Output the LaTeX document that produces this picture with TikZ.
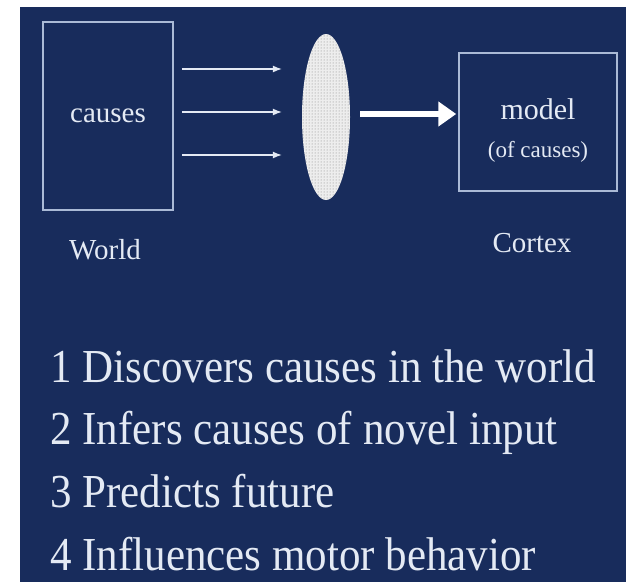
\documentclass[tikz,border=0pt]{standalone}
\usepackage{fontspec}
\setmainfont{Liberation Serif}
\newfontfamily\slideFont{Liberation Serif}
\usetikzlibrary{shapes, arrows, arrows.meta, patterns}
\definecolor{slide}{RGB}{24,44,92}
\definecolor{ink}{RGB}{228,234,244}
\definecolor{frame}{RGB}{170,186,214}
\tikzstyle{box} = [rectangle, draw=frame, line width=1.5pt, text=ink, align=center]
\tikzstyle{lens} = [ellipse, draw=none, preaction={fill=white!86!gray}, pattern=dots, pattern color=gray]
\tikzstyle{arrow} = [draw=ink, line width=1.2pt, -{Latex[length=9pt,width=7pt]}]
\tikzstyle{bigarrow} = [draw=white, line width=6pt, -{Triangle[length=18pt,width=24pt]}]
\tikzstyle{tag} = [text=ink, font=\slideFont\fontsize{29}{32}\selectfont]
\newcommand{\smallFont}{\fontsize{23}{26}\selectfont}

\begin{document}
\begin{tikzpicture}[x=1pt, y=-1pt]
\useasboundingbox (0,0) rectangle (626,582);
\fill[slide] (20,7) rectangle (626,582);
% world and cortex
\node[box, minimum width=130pt, minimum height=188pt, font=\slideFont\fontsize{29}{32}\selectfont] (world) at (108,116) {causes};
\node[lens, minimum width=48pt, minimum height=166pt] (lens) at (326,117) {};
\node[box, minimum width=158pt, minimum height=138pt,
  label={[text=ink, align=center, yshift=-9pt, font=\slideFont\fontsize{30}{34}\selectfont]center:model\\[4pt]{\smallFont (of causes)}}] (model) at (538,122) {};
\node[tag] (worldTag) at (105,250) {World};
\node[tag] (cortexTag) at (532,243) {Cortex};
% arrows
\draw[arrow, shorten <=8pt, shorten >=20pt] (world.east |- 0,69) -- (lens.west |- 0,69);
\draw[arrow, shorten <=8pt, shorten >=20pt] (world.east |- 0,112) -- (lens.west |- 0,112);
\draw[arrow, shorten <=8pt, shorten >=20pt] (world.east |- 0,155) -- (lens.west |- 0,155);
\draw[bigarrow, shorten <=10pt, shorten >=2pt] (lens.east |- 0,114) -- (model.west |- 0,114);
% list
\node[anchor=west, align=left, text=ink, inner sep=0pt, yscale=1.1, transform shape, font=\slideFont\fontsize{43}{57}\selectfont] (points) at (50,460) {1 Discovers causes in the world\\2 Infers causes of novel input\\3 Predicts future\\4 Influences motor behavior};
\end{tikzpicture}
\end{document}
